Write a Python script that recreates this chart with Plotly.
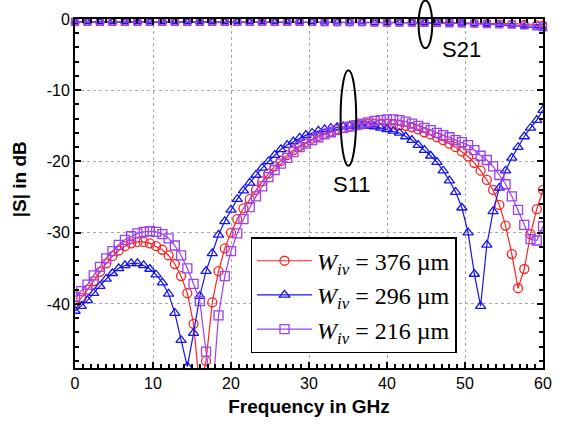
import plotly.graph_objects as go

# ---------------- data ----------------
freq = [0, 0.8, 1.6, 2.4, 3.2, 4, 4.8, 5.6, 6.4, 7.2, 8, 8.8, 9.6, 10.4, 11.2, 12, 12.8, 13.6, 14.4, 15.2,
        16, 16.8, 17.6, 18.4, 19.2, 20, 20.8, 21.6, 22.4, 23.2, 24, 24.8, 25.6, 26.4, 27.2, 28, 28.8, 29.6,
        30.4, 31.2, 32, 32.8, 33.6, 34.4, 35.2, 36, 36.8, 37.6, 38.4, 39.2, 40, 40.8, 41.6, 42.4, 43.2, 44,
        44.8, 45.6, 46.4, 47.2, 48, 48.8, 49.6, 50.4, 51.2, 52, 52.8, 53.6, 54.4, 55.2, 56, 56.8, 57.6, 58.4,
        59.2, 60]

s11_376 = [-40.2, -39.2, -38.0, -36.8, -35.5, -34.3, -33.3, -32.5, -31.9, -31.5, -31.3, -31.3, -31.5, -31.9,
           -32.4, -33.2, -34.4, -36.1, -38.5, -42.8, -52.0, -48.0, -39.8, -35.4, -32.2, -30.0, -28.1, -26.6,
           -25.3, -24.0, -22.8, -21.7, -20.7, -19.9, -19.1, -18.4, -17.8, -17.3, -16.8, -16.4, -16.1, -15.8,
           -15.5, -15.3, -15.1, -14.9, -14.8, -14.7, -14.7, -14.7, -14.7, -14.8, -14.9, -15.0, -15.2, -15.5,
           -15.9, -16.2, -16.6, -17.0, -17.5, -18.0, -18.6, -19.3, -20.2, -21.3, -22.6, -24.0, -26.1, -29.0,
           -33.0, -37.8, -35.1, -30.2, -26.7, -24.0]

s11_296 = [-41.0, -40.3, -39.5, -38.5, -37.5, -36.5, -35.7, -35.0, -34.6, -34.3, -34.3, -34.6, -35.1, -35.9,
           -37.0, -38.6, -41.3, -45.1, -48.8, -44.1, -38.9, -35.4, -32.9, -30.3, -28.4, -26.8, -25.3, -24.1,
           -23.0, -21.9, -20.9, -20.0, -19.1, -18.3, -17.7, -17.2, -16.7, -16.3, -16.0, -15.7, -15.5, -15.3,
           -15.2, -15.1, -15.0, -15.0, -15.0, -15.0, -15.1, -15.3, -15.5, -15.7, -16.0, -16.5, -17.0, -17.7,
           -18.4, -19.2, -20.1, -21.3, -22.7, -24.3, -26.5, -30.0, -35.8, -40.3, -31.7, -27.0, -23.7, -21.3,
           -19.5, -18.0, -16.5, -15.3, -14.2, -12.8]

s11_216 = [-39.0, -38.2, -37.3, -36.0, -34.8, -33.6, -32.6, -31.7, -31.0, -30.5, -30.1, -29.9, -29.8, -29.9,
           -30.2, -30.8, -31.8, -33.2, -35.0, -37.2, -39.6, -46.7, -53.0, -41.6, -36.1, -32.6, -30.1, -28.1,
           -26.4, -24.9, -23.5, -22.2, -21.2, -20.3, -19.5, -18.7, -18.0, -17.5, -17.0, -16.6, -16.2, -15.9,
           -15.6, -15.3, -15.1, -14.9, -14.7, -14.5, -14.3, -14.2, -14.1, -14.1, -14.2, -14.4, -14.7, -15.0,
           -15.3, -15.6, -16.0, -16.3, -16.6, -17.0, -17.3, -17.7, -18.4, -19.2, -19.8, -20.7, -21.9, -23.2,
           -24.9, -26.8, -28.9, -30.9, -31.1, -29.1]

freq21 = [0, 1.6, 3.2, 4.8, 6.4, 8, 9.6, 11.2, 12.8, 14.4, 16, 17.6, 19.2, 20.8, 22.4, 24, 25.6, 27.2, 28.8,
          30.4, 32, 33.6, 35.2, 36.8, 38.4, 40, 41.6, 43.2, 44.8, 46.4, 48, 49.6, 51.2, 52.8, 54.4, 56, 57.6,
          59.2, 60]
s21_376 = [-0.4, -0.4, -0.4, -0.4, -0.4, -0.4, -0.4, -0.4, -0.4, -0.4, -0.4, -0.4, -0.4, -0.4, -0.4, -0.4,
           -0.4, -0.4, -0.4, -0.4, -0.45, -0.45, -0.45, -0.45, -0.5, -0.5, -0.5, -0.5, -0.5, -0.55, -0.55,
           -0.6, -0.6, -0.6, -0.65, -0.65, -0.7, -0.75, -0.8]
s21_296 = [-0.4, -0.4, -0.4, -0.4, -0.4, -0.4, -0.4, -0.4, -0.4, -0.4, -0.4, -0.4, -0.4, -0.4, -0.4, -0.4,
           -0.4, -0.4, -0.4, -0.4, -0.45, -0.45, -0.45, -0.45, -0.5, -0.5, -0.5, -0.5, -0.55, -0.55, -0.6,
           -0.6, -0.65, -0.7, -0.8, -0.9, -1.05, -1.25, -1.4]
s21_216 = [-0.4, -0.4, -0.4, -0.4, -0.4, -0.4, -0.4, -0.4, -0.4, -0.4, -0.4, -0.4, -0.4, -0.4, -0.4, -0.4,
           -0.4, -0.4, -0.4, -0.4, -0.45, -0.45, -0.45, -0.45, -0.5, -0.5, -0.5, -0.5, -0.55, -0.55, -0.6,
           -0.6, -0.65, -0.7, -0.75, -0.8, -0.9, -1.0, -1.05]

legend_names = ["<i>W</i><sub><i>iv</i></sub> = 376 µm",
                "<i>W</i><sub><i>iv</i></sub> = 296 µm",
                "<i>W</i><sub><i>iv</i></sub> = 216 µm"]
y_tickvals = [0, -10, -20, -30, -40]
y_ticktext = ["0", "-10", "-20", "-30", "-40"]
x_tickvals = [0, 10, 20, 30, 40, 50, 60]
x_ticktext = ["0", "10", "20", "30", "40", "50", "60"]

# ---------------- style ----------------
colors = ["#ff2222", "#1414f0", "#9b40f2"]
symbols = ["circle-open", "triangle-up-open", "square-open"]
XR = (0, 60)
YR = (-49, 0)

fig = go.Figure()

for y21, c, s in zip([s21_376, s21_296, s21_216], colors, symbols):
    fig.add_trace(go.Scatter(
        x=freq21, y=y21, mode="lines+markers", showlegend=False,
        line=dict(color=c, width=1.2),
        marker=dict(symbol=s, size=7, color=c, line=dict(width=1.3, color=c)),
        cliponaxis=False))

for y11, c, s, n in zip([s11_376, s11_296, s11_216], colors, symbols, legend_names):
    fig.add_trace(go.Scatter(
        x=freq, y=y11, mode="lines+markers", name=n,
        line=dict(color=c, width=1.2),
        marker=dict(symbol=s, size=9, color=c, line=dict(width=1.3, color=c)),
        cliponaxis=True))


def px(x):
    return (x - XR[0]) / (XR[1] - XR[0])


def py(y):
    return (y - YR[0]) / (YR[1] - YR[0])


shapes = [
    dict(type="circle", xref="paper", yref="paper",
         x0=px(34.05), x1=px(36.05), y0=py(-20.6), y1=py(-7.2),
         line=dict(color="black", width=2)),
    dict(type="circle", xref="paper", yref="paper",
         x0=px(44.05), x1=px(45.8), y0=py(-4.1), y1=py(2.6),
         line=dict(color="black", width=2)),
]

annotations = [
    dict(x=35.5, y=-23.3, xref="x", yref="y", text="S11", showarrow=False,
         font=dict(family="Liberation Sans", size=22, color="black")),
    dict(x=49.5, y=-4.3, xref="x", yref="y", text="S21", showarrow=False,
         font=dict(family="Liberation Sans", size=22, color="black")),
    dict(x=0, y=py(-22.5), xref="paper", yref="paper", xanchor="center", yanchor="middle",
         xshift=-56, textangle=-90, text="|S| in dB", showarrow=False,
         font=dict(family="Liberation Sans", size=19, color="black", weight="bold")),
]

axis_common = dict(
    showline=True, linecolor="black", linewidth=2, mirror="allticks",
    ticks="inside", ticklen=6, tickwidth=1.5, tickcolor="black",
    showgrid=True, gridcolor="#a8a8a8", gridwidth=1, griddash="dot",
    zeroline=False,
    tickfont=dict(family="Liberation Sans", size=16, color="black"),
)

fig.update_layout(
    width=562, height=425,
    margin=dict(l=75, r=10, t=19, b=57),
    paper_bgcolor="white", plot_bgcolor="white",
    xaxis=dict(range=list(XR), tickvals=x_tickvals, ticktext=x_ticktext,
               minor=dict(dtick=1, ticks="inside", ticklen=4, tickcolor="black", showgrid=False),
               title=dict(text="Frequency in GHz", standoff=8,
                          font=dict(family="Liberation Sans", size=19, color="black", weight="bold")),
               **axis_common),
    yaxis=dict(range=list(YR), tickvals=y_tickvals, ticktext=y_ticktext,
               minor=dict(dtick=2, tick0=0, ticks="inside", ticklen=4, tickcolor="black", showgrid=False),
               **axis_common),
    legend=dict(x=0.375, y=0.375, xanchor="left", yanchor="top",
                bgcolor="white", bordercolor="black", borderwidth=1.5,
                font=dict(family="Liberation Serif", size=24, color="black"),
                itemwidth=55, tracegroupgap=0),
    shapes=shapes,
    annotations=annotations,
)

fig.write_html("out.html")
